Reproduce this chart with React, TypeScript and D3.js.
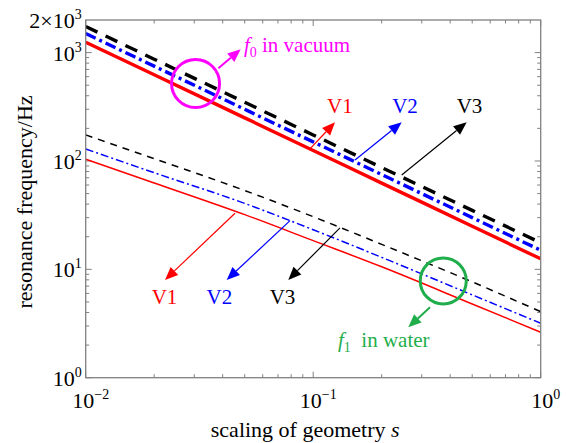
import React from "react";
import * as d3 from "d3";

// ---- data ----
const scaling = [0.01, 0.02, 0.05, 0.1, 0.2, 0.5, 1];
const vacuumV1 = [1245, 625, 250, 125, 62.5, 25, 12.5];
const vacuumV2 = [1500, 750, 300, 150, 75, 30, 15];
const vacuumV3 = [1740, 870, 348, 174, 87, 35, 17.6];
const waterV1 = [104, 62.7, 32.0, 18.4, 10.55, 4.79, 2.63];
const waterV2 = [129, 77.9, 40.6, 23.2, 12.9, 5.81, 3.18];
const waterV3 = [174, 105, 53.4, 30.6, 17.0, 7.66, 4.07];

const yTickValues = [1, 10, 100, 1000, 2000];
const yTickLabels = [["10", "0"], ["10", "1"], ["10", "2"], ["10", "3"], ["2×10", "3"]];
const xTickValues = [0.01, 0.1, 1];
const xTickLabels = [["10", "−2"], ["10", "−1"], ["10", "0"]];

// annotations in data coordinates: [s, f]
const vacuumCircle = [0.0304, 519];
const waterCircle = [0.373, 7.82];
const vacuumArrow = [[0.0383, 717], [0.048, 1073]];
const waterArrow = [[0.3262, 4.47], [0.2618, 2.925]];
const upperArrows = [
  { from: [0.097, 130], to: [0.1247, 227.7], label: "V1", labelAt: [0.1311, 277], color: "#ff0000" },
  { from: [0.1527, 102.2], to: [0.2449, 227.7], label: "V2", labelAt: [0.2532, 277], color: "#0000ff" },
  { from: [0.2449, 74.3], to: [0.4727, 227.7], label: "V3", labelAt: [0.4864, 277], color: "#000000" },
];
const lowerArrows = [
  { from: [0.04532, 32.95], to: [0.02232, 7.99], label: "V1", labelAt: [0.0222, 4.8], color: "#ff0000" },
  { from: [0.0791, 28.15], to: [0.04167, 7.99], label: "V2", labelAt: [0.0387, 4.8], color: "#0000ff" },
  { from: [0.1311, 24.1], to: [0.0777, 7.99], label: "V3", labelAt: [0.0733, 4.8], color: "#000000" },
];
const vacuumTextAt = [0.0496, 1014];
const waterTextAt = [0.1285, 1.938];

const W = 566;
const H = 443;
const left = 85.7;
const right = 540.7;
const top = 20;
const bottom = 377.7;
const FONT = "'Liberation Serif', 'Times New Roman', serif";
const MAGENTA = "#ff00ff";
const GREEN = "#1fae4b";
const AXIS = "#808080";

const x = d3.scaleLog().domain([0.01, 1]).range([left, right]);
const y = d3.scaleLog().domain([1, 2000]).range([bottom, top]);

function Arrow({ from, to, color, width = 1.2 }: any) {
  const x1 = x(from[0]), y1 = y(from[1]);
  const x2 = x(to[0]), y2 = y(to[1]);
  const dx = x2 - x1, dy = y2 - y1;
  const len = Math.hypot(dx, dy);
  const ux = dx / len, uy = dy / len;
  const L = 13, hw = 5.5;
  const bx = x2 - ux * L, by = y2 - uy * L;
  const pts = [
    [x2, y2],
    [bx - uy * hw, by + ux * hw],
    [bx + uy * hw, by - ux * hw],
  ];
  return (
    <g>
      <line x1={x1} y1={y1} x2={bx} y2={by} stroke={color} strokeWidth={width} />
      <polygon points={pts.map((p) => p.join(",")).join(" ")} fill={color} />
    </g>
  );
}

export default function App() {
  const line = d3
    .line<number>()
    .x((_, i) => x(scaling[i]))
    .y((d) => y(d))
    .curve(d3.curveMonotoneX);

  const series = [
    { data: vacuumV1, color: "#ff0000", w: 3.4, dash: "none" },
    { data: vacuumV2, color: "#0000ff", w: 3.4, dash: "11,4,3,4" },
    { data: vacuumV3, color: "#000000", w: 3.4, dash: "13,9" },
    { data: waterV1, color: "#ff0000", w: 1.5, dash: "none" },
    { data: waterV2, color: "#0000ff", w: 1.5, dash: "8,3,2,3" },
    { data: waterV3, color: "#000000", w: 1.5, dash: "7,6" },
  ];

  // minor ticks
  const yMinor: number[] = [];
  for (let k = 0; k < 3; k++) for (let m = 2; m <= 9; m++) yMinor.push(m * Math.pow(10, k));
  const xMinor: number[] = [];
  for (let k = -2; k < 0; k++) for (let m = 2; m <= 9; m++) xMinor.push(m * Math.pow(10, k));
  const yMajor = [1, 10, 100, 1000];
  const xMajor = [0.01, 0.1, 1];
  const maj = 6, min = 3.5;

  return (
    <svg
      width={W}
      height={H}
      style={{ position: "absolute", left: 0, top: 0, background: "#fff" }}
      fontFamily={FONT}
    >
      <defs>
        <clipPath id="plot">
          <rect x={left} y={top} width={right - left} height={bottom - top} />
        </clipPath>
      </defs>
      <rect x={0} y={0} width={W} height={H} fill="#fff" />

      {/* ticks */}
      <g stroke={AXIS} strokeWidth={1}>
        {yMinor.map((v) => (
          <g key={"ym" + v}>
            <line x1={left} x2={left + min} y1={y(v)} y2={y(v)} />
            <line x1={right} x2={right - min} y1={y(v)} y2={y(v)} />
          </g>
        ))}
        {yMajor.map((v) => (
          <g key={"yM" + v}>
            <line x1={left} x2={left + maj} y1={y(v)} y2={y(v)} />
            <line x1={right} x2={right - maj} y1={y(v)} y2={y(v)} />
          </g>
        ))}
        {xMinor.map((v) => (
          <g key={"xm" + v}>
            <line x1={x(v)} x2={x(v)} y1={bottom} y2={bottom - min} />
            <line x1={x(v)} x2={x(v)} y1={top} y2={top + min} />
          </g>
        ))}
        {xMajor.map((v) => (
          <g key={"xM" + v}>
            <line x1={x(v)} x2={x(v)} y1={bottom} y2={bottom - maj} />
            <line x1={x(v)} x2={x(v)} y1={top} y2={top + maj} />
          </g>
        ))}
      </g>

      {/* series */}
      <g clipPath="url(#plot)" fill="none">
        {series.map((s, i) => (
          <path
            key={i}
            d={line(s.data) || ""}
            stroke={s.color}
            strokeWidth={s.w}
            strokeDasharray={s.dash}
          />
        ))}
      </g>

      {/* frame */}
      <rect
        x={left}
        y={top}
        width={right - left}
        height={bottom - top}
        fill="none"
        stroke={AXIS}
        strokeWidth={1.3}
      />

      {/* y tick labels */}
      {yTickValues.map((v, i) => (
        <text key={"yl" + v} x={left - 4} y={y(v) + 8} textAnchor="end" fontSize={22} fill="#000">
          {yTickLabels[i][0]}
          <tspan dy={-9} fontSize={14}>
            {yTickLabels[i][1]}
          </tspan>
        </text>
      ))}
      {/* x tick labels */}
      {xTickValues.map((v, i) => (
        <text key={"xl" + v} x={x(v) + 5} y={408} textAnchor="middle" fontSize={22} fill="#000">
          {xTickLabels[i][0]}
          <tspan dy={-9} fontSize={14}>
            {xTickLabels[i][1]}
          </tspan>
        </text>
      ))}

      {/* axis titles */}
      <text x={(left + right) / 2 - 8} y={437} textAnchor="middle" fontSize={22} fill="#000">
        scaling of geometry <tspan fontStyle="italic">s</tspan>
      </text>
      <text
        transform={`translate(32,${202}) rotate(-90)`}
        textAnchor="middle"
        fontSize={22}
        fill="#000"
      >
        resonance frequency/Hz
      </text>

      {/* annotations */}
      <circle
        cx={x(vacuumCircle[0])}
        cy={y(vacuumCircle[1])}
        r={24}
        fill="none"
        stroke={MAGENTA}
        strokeWidth={3}
      />
      <Arrow from={vacuumArrow[0]} to={vacuumArrow[1]} color={MAGENTA} width={2} />
      <text x={x(vacuumTextAt[0])} y={y(vacuumTextAt[1])} fontSize={21} fill={MAGENTA}>
        <tspan fontStyle="italic">f</tspan>
        <tspan fontSize={14} dy={5}>0</tspan>
        <tspan dy={-5}> in vacuum</tspan>
      </text>

      <circle
        cx={x(waterCircle[0])}
        cy={y(waterCircle[1])}
        r={23}
        fill="none"
        stroke={GREEN}
        strokeWidth={3}
      />
      <Arrow from={waterArrow[0]} to={waterArrow[1]} color={GREEN} width={2} />
      <text x={x(waterTextAt[0])} y={y(waterTextAt[1])} fontSize={21} fill={GREEN}>
        <tspan fontStyle="italic">f</tspan>
        <tspan fontSize={14} dy={5}>1</tspan>
        <tspan dy={-5}>{"\u00a0 in water"}</tspan>
      </text>

      {upperArrows.concat(lowerArrows).map((a, i) => (
        <g key={"a" + i}>
          <Arrow from={a.from} to={a.to} color={a.color} />
          <text
            x={x(a.labelAt[0])}
            y={y(a.labelAt[1])}
            textAnchor="middle"
            fontSize={21}
            fill={a.color}
          >
            {a.label}
          </text>
        </g>
      ))}
    </svg>
  );
}
